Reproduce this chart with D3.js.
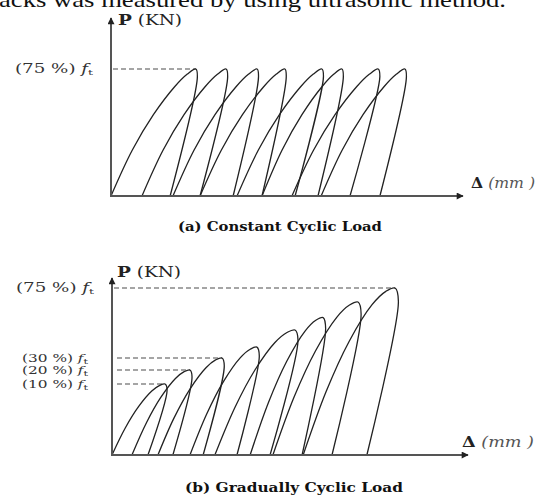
<!DOCTYPE html>
<html>
<head>
<meta charset="utf-8">
<script src="https://cdn.jsdelivr.net/npm/d3@7"></script>
<style>
  body { margin: 0; background: #fff; }
  svg { display: block; font-family: "DejaVu Serif", serif; }
</style>
</head>
<body>
<div id="chart"></div>
<script>
'use strict';

// (a) constant cyclic load: displacement (axis units 0-100) and load (% of ft)
var constStart = [0, 8.8, 17.6, 25.3, 35.8, 42.9, 51.4, 59.7];
var constPeak  = [24.1, 32.7, 41.5, 49.4, 59.9, 65.6, 75.9, 83.5];
var constEnd   = [16.8, 25.3, 34.7, 42.9, 52.3, 58.8, 67.9, 76.4];
var constLevel = [75, 75, 75, 75, 75, 75, 75, 75];
var constTicks = [75];

// (b) gradually increasing cyclic load
var gradStart = [0, 5.6, 12.9, 21.9, 28.9, 38.8, 45.2, 53.7];
var gradPeak  = [14.9, 21.9, 30.9, 40.7, 51.4, 59.3, 69.1, 79.5];
var gradEnd   = [10.1, 17.1, 25.6, 35.1, 44.4, 53.4, 61.8, 71.6];
var gradLevel = [10, 20, 30, 37, 48, 56, 66, 75];
var gradTicks = [10, 20, 30, 75];

// shape of the branches:
// [fraction of horizontal travel, fraction of load]
var constLoadShape = [[0, 0], [0.25, 0.36], [0.5, 0.64], [0.75, 0.86], [0.9, 0.96], [1, 1]];
var gradLoadShape  = [[0, 0], [0.25, 0.38], [0.5, 0.68], [0.75, 0.9], [0.9, 0.98], [1, 1]];
var constUnloadShape = [[0, 0], [-0.06, 0.06], [1, 1]];
var gradUnloadShape  = [[0, 0], [-0.12, 0.08], [1, 1]];

var W = 536, H = 496;

var svg = d3.select('#chart').append('svg')
  .attr('width', W)
  .attr('height', H);

var defs = svg.append('defs');
defs.append('marker')
  .attr('id', 'arrow')
  .attr('viewBox', '0 0 10 10')
  .attr('refX', 9).attr('refY', 5)
  .attr('markerWidth', 9).attr('markerHeight', 7)
  .attr('markerUnits', 'userSpaceOnUse')
  .attr('orient', 'auto')
  .append('path')
    .attr('d', 'M0,0L10,5L0,10z')
    .attr('fill', '#222');

// bottom of the paper sentence that is cut off above the figure
svg.append('text')
  .attr('x', -1).attr('y', 7)
  .attr('font-family', '"Liberation Serif", serif')
  .attr('font-size', 21)
  .attr('fill', '#111')
  .attr('textLength', 507)
  .attr('lengthAdjust', 'spacingAndGlyphs')
  .text('acks was measured by using ultrasonic method.');

function drawPanel(o) {
  var g = svg.append('g');
  var x = d3.scaleLinear().domain([0, 100]).range([o.x0, o.x1]);
  // the sketch is not drawn to scale, so the load axis is piecewise
  var y = d3.scaleLinear().domain(o.yDomain).range(o.yRange);

  // dashed guides from the axis to the first peak reaching each level
  g.selectAll('line.guide')
    .data(o.ticks)
    .enter()
    .append('line')
      .attr('class', 'guide')
      .attr('x1', function(d) { return x(0) + (d === 75 ? 2 : 5); })
      .attr('x2', function(d) { return x(o.peaks[o.levels.indexOf(d)]); })
      .attr('y1', function(d) { return y(d); })
      .attr('y2', function(d) { return y(d); })
      .attr('stroke', '#888')
      .attr('stroke-width', 1.6)
      .attr('stroke-dasharray', '5,3');

  // tick labels "(xx %) ft"
  var lab = g.selectAll('text.tick')
    .data(o.ticks)
    .enter()
    .append('text')
      .attr('class', 'tick')
      .attr('x', function(d) { return x(0) - (d === 75 ? 96 : 90); })
      .attr('y', function(d) { return y(d) + 4; })
      .attr('font-size', function(d) { return d === 75 ? 12 : 11; })
      .attr('fill', '#333')
      .attr('textLength', function(d) { return d === 75 ? 78 : 66; })
      .attr('lengthAdjust', 'spacingAndGlyphs');
  lab.append('tspan').text(function(d) { return '(' + d + ' %) '; });
  lab.append('tspan').attr('font-style', 'italic').text('f');
  lab.append('tspan').attr('font-size', 8).attr('dy', 2).text('t');

  // load-unload loops
  var line = d3.line().curve(d3.curveCatmullRom.alpha(0.5));
  var loops = o.starts.map(function(s, i) {
    var xs = x(s), xp = x(o.peaks[i]), xe = x(o.ends[i]);
    var yb = y(0), yp = y(o.levels[i]);
    var pts = o.loadShape.map(function(d) {
      return [xs + d[0] * (xp - xs), yb + d[1] * (yp - yb)];
    });
    o.unloadShape.slice(1).forEach(function(d) {
      pts.push([xp + d[0] * (xe - xp), yp + d[1] * (yb - yp)]);
    });
    return pts;
  });
  g.selectAll('path.loop')
    .data(loops)
    .enter()
    .append('path')
      .attr('class', 'loop')
      .attr('d', line)
      .attr('fill', 'none')
      .attr('stroke', '#222')
      .attr('stroke-width', 1.3);

  // axes
  g.append('line')
    .attr('x1', x(0)).attr('y1', y(0))
    .attr('x2', x(0)).attr('y2', o.yAxisTop)
    .attr('stroke', '#555').attr('stroke-width', 2)
    .attr('marker-end', 'url(#arrow)');
  g.append('line')
    .attr('x1', x(0) - 1).attr('y1', y(0))
    .attr('x2', x(100)).attr('y2', y(0))
    .attr('stroke', '#555').attr('stroke-width', 2)
    .attr('marker-end', 'url(#arrow)');

  // axis titles
  var p = g.append('text')
    .attr('x', o.pLabel[0]).attr('y', o.pLabel[1])
    .attr('font-size', 14)
    .attr('fill', '#222')
    .attr('textLength', 64)
    .attr('lengthAdjust', 'spacingAndGlyphs');
  p.append('tspan').attr('font-weight', 'bold').text('P');
  p.append('tspan').text(' (KN)');

  var dl = g.append('text')
    .attr('x', o.dLabel[0]).attr('y', o.dLabel[1])
    .attr('font-size', 14)
    .attr('fill', '#222')
    .attr('textLength', o.dLabel[2])
    .attr('lengthAdjust', 'spacingAndGlyphs');
  dl.append('tspan').attr('font-weight', 'bold').text('\u0394');
  dl.append('tspan').attr('font-style', 'italic').attr('fill', '#555').text(' (mm )');

  g.append('text')
    .attr('x', o.caption[0]).attr('y', o.caption[1])
    .attr('font-size', 13)
    .attr('font-weight', 'bold')
    .attr('fill', '#111')
    .attr('textLength', o.caption[2])
    .attr('lengthAdjust', 'spacingAndGlyphs')
    .text(o.caption[3]);
}

drawPanel({
  x0: 111, x1: 463,
  yDomain: [0, 75], yRange: [196, 69], yAxisTop: 18,
  starts: constStart, peaks: constPeak, ends: constEnd, levels: constLevel,
  ticks: constTicks,
  loadShape: constLoadShape, unloadShape: constUnloadShape,
  pLabel: [118, 25], dLabel: [471, 188, 64],
  caption: [178, 231, 204, '(a) Constant Cyclic Load']
});

drawPanel({
  x0: 112, x1: 468,
  yDomain: [0, 10, 20, 30, 75], yRange: [455, 384, 370, 358, 288], yAxisTop: 278,
  starts: gradStart, peaks: gradPeak, ends: gradEnd, levels: gradLevel,
  ticks: gradTicks,
  loadShape: gradLoadShape, unloadShape: gradUnloadShape,
  pLabel: [117, 277], dLabel: [462, 447, 72],
  caption: [185, 492, 218, '(b) Gradually Cyclic Load']
});
</script>
</body>
</html>
